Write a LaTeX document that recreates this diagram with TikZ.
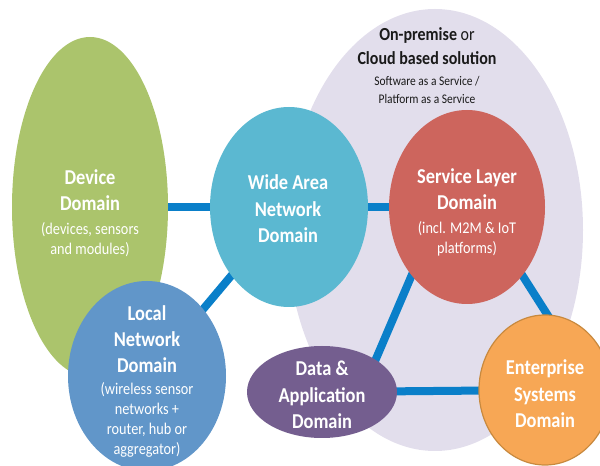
\documentclass[tikz,border=0pt]{standalone}
\usepackage{fontspec}
\setmainfont{Carlito}
\usetikzlibrary{shapes.geometric}

\definecolor{cloudbg}{HTML}{E2DEEC}
\definecolor{devgreen}{HTML}{ABC46C}
\definecolor{wanteal}{HTML}{5BB8D1}
\definecolor{svcred}{HTML}{CD655D}
\definecolor{locblue}{HTML}{6196C9}
\definecolor{datapurple}{HTML}{745E8F}
\definecolor{entorange}{HTML}{F7A755}
\definecolor{entedge}{HTML}{C8893E}
\definecolor{linkblue}{HTML}{0A7FC9}
\definecolor{darktext}{HTML}{1A1A1A}

\pgfdeclarelayer{back}
\pgfdeclarelayer{wires}
\pgfsetlayers{back,wires,main}

% title line inside a domain bubble
\newcommand\dttl[1]{{\fontsize{13.8pt}{13pt}\selectfont\bfseries #1}}
% title line of the cloud caption
\newcommand\cttl[1]{{\fontsize{12pt}{11.7pt}\selectfont #1}}

\tikzset{
  bubble/.style={ellipse, inner sep=0pt, outer sep=0pt, draw=none},
  link/.style={draw=linkblue, line width=6pt},
  tall/.style={yscale=1.15},
  dtext/.style={tall, text=white, align=center, inner sep=0pt,
                font=\fontsize{10.7pt}{13.04pt}\selectfont},
  dtitle/.style={tall, text=white, align=center, inner sep=0pt,
                 font=\fontsize{13.8pt}{17.3pt}\selectfont\bfseries},
}

\begin{document}
\begin{tikzpicture}[x=0.75pt, y=-0.75pt]
\useasboundingbox (0,0) rectangle (600,466);

% cloud / on-premise area
\begin{pgfonlayer}{back}
  \node[bubble, fill=cloudbg, minimum width=222pt, minimum height=331.5pt] (cloud) at (435,230) {};
\end{pgfonlayer}

% domain bubbles
\node[bubble, fill=devgreen, minimum width=117pt, minimum height=255pt] (dev) at (90,207) {};
\node[bubble, fill=wanteal, minimum width=118.5pt, minimum height=150pt] (wan) at (289,207) {};
\node[bubble, fill=svcred, minimum width=117pt, minimum height=145.5pt] (svc) at (467,207) {};
\node[bubble, fill=locblue, minimum width=118.5pt, minimum height=142.5pt] (loc) at (147,376) {};
\node[bubble, fill=datapurple, minimum width=112.5pt, minimum height=69pt] (data) at (322,392) {};
\node[bubble, fill=entorange, draw=entedge, line width=0.9pt, minimum width=99pt, minimum height=112.5pt] (ent) at (545,390) {};

% connectors between domains
\begin{pgfonlayer}{wires}
  \draw[link] (dev.center) -- (wan.center);
  \draw[link] (wan.center) -- (svc.center);
  \draw[link] (wan.center) -- (loc.center);
  \draw[link] (data.center) -- (ent.center);
  \draw[link, shorten <=-10pt, shorten >=-10pt] (svc.231) -- (data.31);
  \draw[link, shorten <=-10pt, shorten >=-10pt] (svc.309) -- (ent.88);
\end{pgfonlayer}

% labels
\node[tall, text=darktext, align=center, inner sep=0pt, font=\fontsize{8.6pt}{11.74pt}\selectfont] (cloudtxt) at (427,66)
  {\cttl{\textbf{On-premise} or}\\[3.9pt]\cttl{\textbf{Cloud based solution}}\\[1.95pt]Software as a Service /\\Platform as a Service};

\node[dtext] (devtxt) at (90,213)
  {\dttl{Device}\\[3.9pt]\dttl{Domain}\\[2.6pt](devices, sensors\\and modules)};
\node[dtitle] (wantxt) at (288,209) {Wide Area\\Network\\Domain};
\node[dtext] (svctxt) at (467,212.5)
  {\dttl{Service Layer}\\[3.9pt]\dttl{Domain}\\[2.6pt](incl. M2M \& IoT\\platforms)};
\node[dtext] (loctxt) at (147,381.5)
  {\dttl{Local}\\[3.9pt]\dttl{Network}\\[3.9pt]\dttl{Domain}\\[1.8pt](wireless sensor\\networks +\\router, hub or\\aggregator)};
\node[dtitle] (datatxt) at (322,395) {Data \&\\Application\\Domain};
\node[dtitle] (enttxt) at (545,394) {Enterprise\\Systems\\Domain};
\end{tikzpicture}
\end{document}
